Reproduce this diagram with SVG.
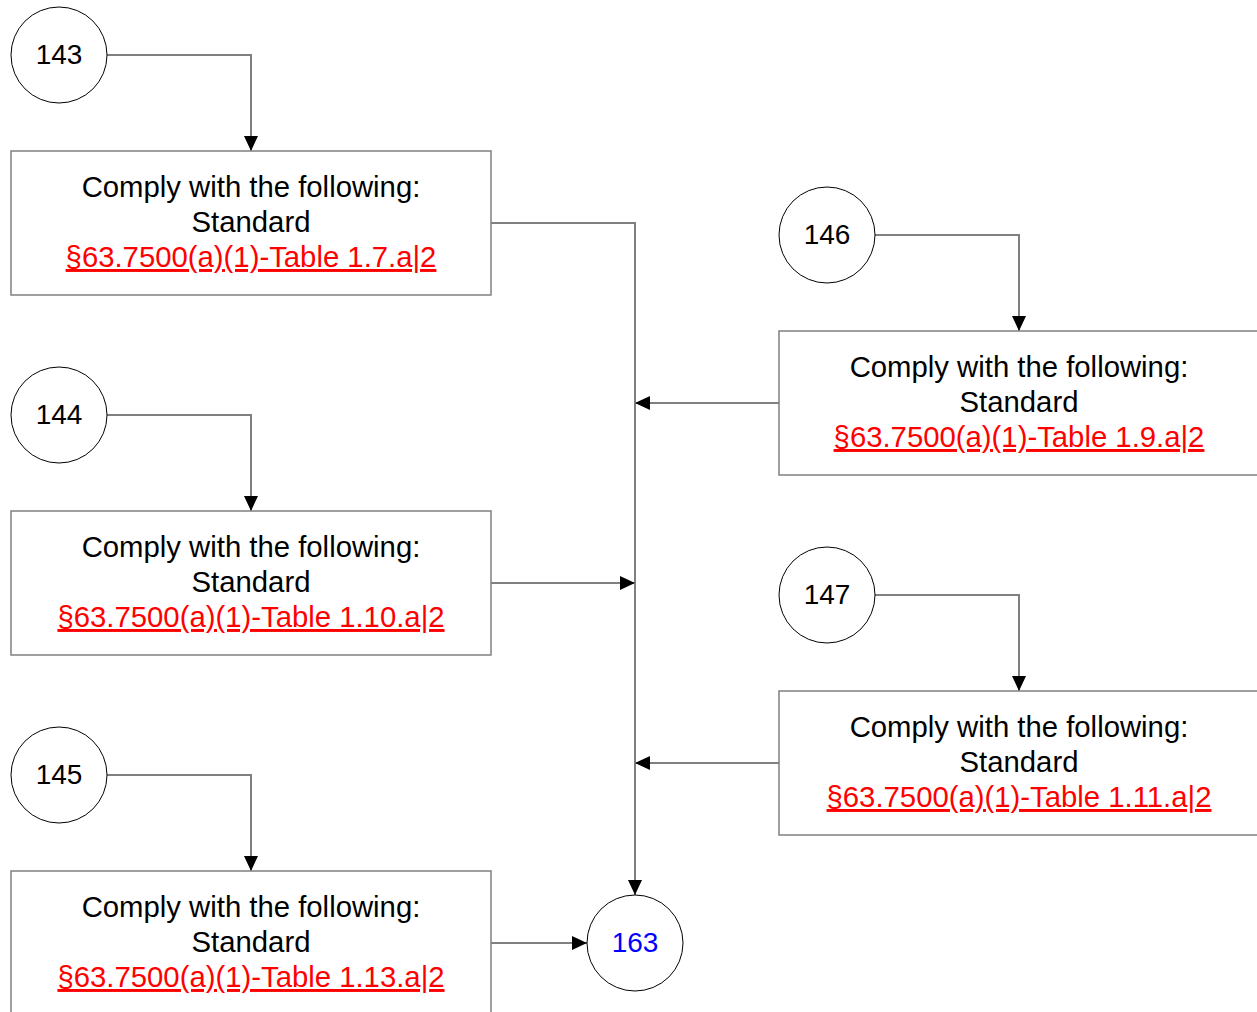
<svg xmlns="http://www.w3.org/2000/svg" width="1257" height="1012" viewBox="0 0 1257 1012">
<defs>
<marker id="arr" viewBox="0 0 15 14" refX="15" refY="7" markerWidth="15" markerHeight="14" markerUnits="userSpaceOnUse" orient="auto">
<path d="M0,0 L15,7 L0,14 Z" fill="#000"/>
</marker>
</defs>
<style>
.c{fill:#fff;stroke:#000;stroke-width:1}
.b{fill:#fff;stroke:#808080;stroke-width:1.5}
.e{fill:none;stroke:#808080;stroke-width:2;marker-end:url(#arr)}
.n{font-family:"Liberation Sans",Arial,sans-serif;font-size:28px;text-anchor:middle;fill:#000}
.t{font-family:"Liberation Sans",Arial,sans-serif;font-size:29.3px;text-anchor:middle;fill:#000}
.l{fill:#f00;text-decoration:underline}
</style>
<rect width="1257" height="1012" fill="#fff"/>
<g id="connectors">
<path class="e" d="M107,55 H251 V151"/>
<path class="e" d="M491,223 H635 V895"/>
<path class="e" d="M875,235 H1019 V331"/>
<path class="e" d="M779,403 H635"/>
<path class="e" d="M107,415 H251 V511"/>
<path class="e" d="M491,583 H635"/>
<path class="e" d="M875,595 H1019 V691"/>
<path class="e" d="M779,763 H635"/>
<path class="e" d="M107,775 H251 V871"/>
<path class="e" d="M491,943 H587"/>
</g>
<g id="n143"><circle class="c" cx="59" cy="55" r="48"/><text class="n" x="59" y="64">143</text></g>
<g id="n144"><circle class="c" cx="59" cy="415" r="48"/><text class="n" x="59" y="424">144</text></g>
<g id="n145"><circle class="c" cx="59" cy="775" r="48"/><text class="n" x="59" y="784">145</text></g>
<g id="n146"><circle class="c" cx="827" cy="235" r="48"/><text class="n" x="827" y="244">146</text></g>
<g id="n147"><circle class="c" cx="827" cy="595" r="48"/><text class="n" x="827" y="604">147</text></g>
<g id="n163"><circle class="c" cx="635" cy="943" r="48"/><text class="n" x="635" y="952" style="fill:#00f">163</text></g>
<g id="b1"><rect class="b" x="11" y="151" width="480" height="144"/>
<text class="t" x="251" y="197">Comply with the following:</text>
<text class="t" x="251" y="232">Standard</text>
<text class="t l" x="251" y="267">§63.7500(a)(1)-Table 1.7.a|2</text></g>
<g id="b2"><rect class="b" x="11" y="511" width="480" height="144"/>
<text class="t" x="251" y="557">Comply with the following:</text>
<text class="t" x="251" y="592">Standard</text>
<text class="t l" x="251" y="627">§63.7500(a)(1)-Table 1.10.a|2</text></g>
<g id="b3"><rect class="b" x="11" y="871" width="480" height="144"/>
<text class="t" x="251" y="917">Comply with the following:</text>
<text class="t" x="251" y="952">Standard</text>
<text class="t l" x="251" y="987">§63.7500(a)(1)-Table 1.13.a|2</text></g>
<g id="b4"><rect class="b" x="779" y="331" width="480" height="144"/>
<text class="t" x="1019" y="377">Comply with the following:</text>
<text class="t" x="1019" y="412">Standard</text>
<text class="t l" x="1019" y="447">§63.7500(a)(1)-Table 1.9.a|2</text></g>
<g id="b5"><rect class="b" x="779" y="691" width="480" height="144"/>
<text class="t" x="1019" y="737">Comply with the following:</text>
<text class="t" x="1019" y="772">Standard</text>
<text class="t l" x="1019" y="807">§63.7500(a)(1)-Table 1.11.a|2</text></g>
</svg>
